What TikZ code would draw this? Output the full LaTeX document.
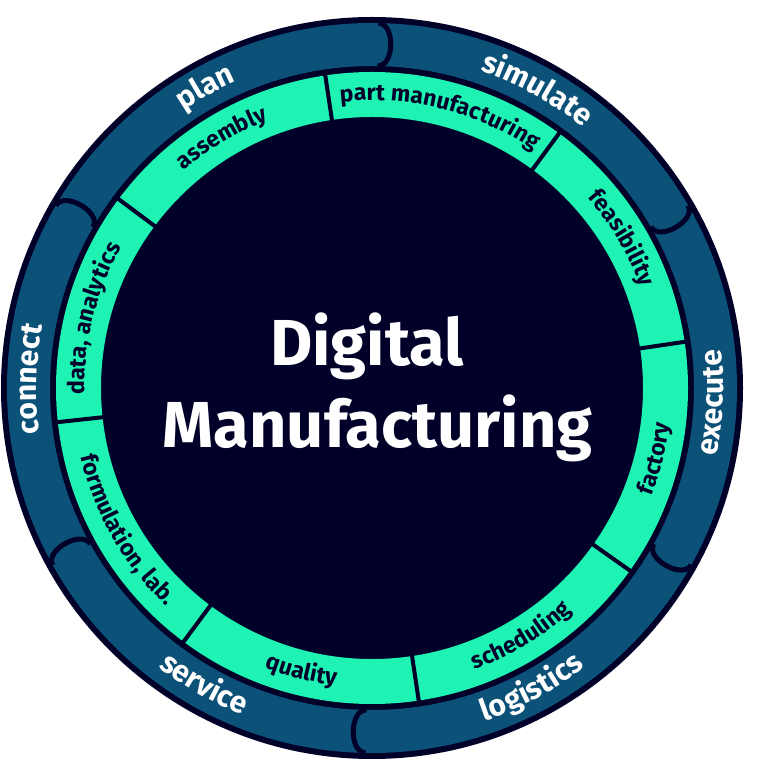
\documentclass[tikz,border=0pt]{standalone}
\usepackage{fontspec}
\setmainfont{Fira Sans}
\usetikzlibrary{decorations.text}
\definecolor{deep}{HTML}{000028}
\definecolor{ringblue}{HTML}{0B5178}
\definecolor{ringgreen}{HTML}{1FF3B3}
\newcommand{\ringfont}{\fontsize{30}{30}\selectfont\bfseries}
\newcommand{\segfont}{\fontsize{23}{23}\selectfont\bfseries}
\newcommand{\hubfont}{\fontsize{65}{65}\selectfont\bfseries}
\begin{document}
\begin{tikzpicture}[x=1pt,y=1pt,
  outlab/.style={decorate, decoration={text along path, text align=center, text color=white, text={|\ringfont|#1}}},
  inlab/.style={decorate, decoration={text along path, text align=center, text color=deep, text={|\segfont|#1}}},
  capline/.style={draw=deep, line width=5pt},
  divider/.style={draw=deep, line width=4pt},
  hub/.style={font=\hubfont, text=white, anchor=base, inner sep=0pt},
]
\useasboundingbox (0,0) rectangle (768,771);
\begin{scope}[shift={(372,383)}]
  \fill[deep] (0,0) circle[radius=371pt];
  \fill[ringblue, even odd rule] (0,0) circle[radius=365pt] (0,0) circle[radius=322pt];
  \fill[ringgreen, even odd rule] (0,0) circle[radius=316pt] (0,0) circle[radius=271pt];
  \foreach \a in {98.5,53.7,8.4,-35.3,-81.5,-126.6,186.2,143.3}
    \draw[divider] (\a:269pt) -- (\a:318pt);
  \foreach \b in {89,30,-29,-91,209,150}
    \draw[capline] (\b:365pt) .. controls +(\b-90:17pt) and +(\b-90:17pt) .. (\b:322pt);
  % outer ring labels
  \path[outlab={plan}] (159:335.5pt) arc[start angle=159, end angle=79, radius=335.5pt];
  \path[outlab={simulate}] (101:335.5pt) arc[start angle=101, end angle=21, radius=335.5pt];
  \path[outlab={connect}] (218.5:335.5pt) arc[start angle=218.5, end angle=138.5, radius=335.5pt];
  \path[outlab={execute}] (-42.5:351.5pt) arc[start angle=-42.5, end angle=37.5, radius=351.5pt];
  \path[outlab={logistics}] (-102:351.5pt) arc[start angle=-102, end angle=-22, radius=351.5pt];
  \path[outlab={service}] (-159.5:351.5pt) arc[start angle=-159.5, end angle=-79.5, radius=351.5pt];
  % inner ring labels
  \path[inlab={assembly}] (161:287.5pt) arc[start angle=161, end angle=81, radius=287.5pt];
  \path[inlab={part manufacturing}] (116:287.5pt) arc[start angle=116, end angle=36, radius=287.5pt];
  \path[inlab={feasibility}] (71:287.5pt) arc[start angle=71, end angle=-9, radius=287.5pt];
  \path[inlab={data, analytics}] (206:287.5pt) arc[start angle=206, end angle=126, radius=287.5pt];
  \path[inlab={factory}] (-54:299.5pt) arc[start angle=-54, end angle=26, radius=299.5pt];
  \path[inlab={scheduling}] (-99:299.5pt) arc[start angle=-99, end angle=-19, radius=299.5pt];
  \path[inlab={quality}] (-144:299.5pt) arc[start angle=-144, end angle=-64, radius=299.5pt];
  \path[inlab={formulation, lab.}] (-190:299.5pt) arc[start angle=-190, end angle=-110, radius=299.5pt];
  % centre
  \node[hub] (t1) at (-5,22) {Digital};
  \node[hub] (t2) at (5.5,-60) {Manufacturing};
\end{scope}
\end{tikzpicture}
\end{document}
